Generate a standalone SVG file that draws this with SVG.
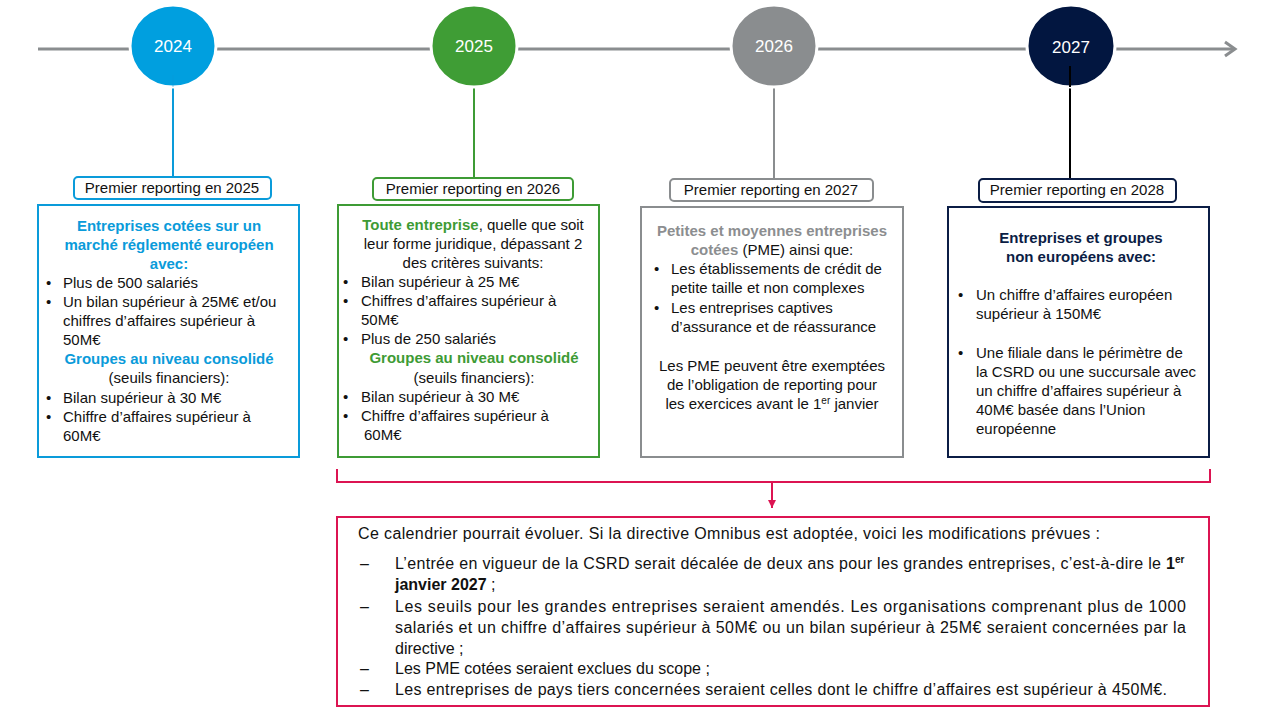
<svg xmlns="http://www.w3.org/2000/svg" width="1280" height="720" viewBox="0 0 1280 720">
<defs>
<style>
text{font-family:"Liberation Sans",Arial,sans-serif;font-size:15px;fill:#111}
.c{text-anchor:middle}
.yr{fill:#fff;font-size:17px;text-anchor:middle}
.b{font-weight:bold}
.blue{fill:#0A9BDA}
.green{fill:#3E9B35}
.grey{fill:#8C8E90}
.navy{fill:#0B1D45}
.lbl{fill:#fff;stroke-width:2}
.box{fill:#fff;stroke-width:2}
#omnibus text{font-size:16px}
</style>
<marker id="ah" markerWidth="10" markerHeight="10" refX="8" refY="5" orient="auto" markerUnits="userSpaceOnUse">
<path d="M0,1 L8,5 L0,9 Z" fill="#DC1452"/>
</marker>
</defs>
<rect width="1280" height="720" fill="#fff"/>

<g id="timeline">
<line x1="38" y1="49" x2="1234" y2="49" stroke="#8A8D8F" stroke-width="3"/>
<polyline points="1225,42 1235,49 1225,56" fill="none" stroke="#8A8D8F" stroke-width="3"/>
</g>

<g id="connectors">
<line x1="173" y1="80" x2="173" y2="177" stroke="#0A9BDA" stroke-width="2"/>
<line x1="474" y1="86" x2="474" y2="178" stroke="#3E9B35" stroke-width="2"/>
<line x1="774" y1="86" x2="774" y2="179" stroke="#8A8D8F" stroke-width="2"/>
<line x1="1070" y1="66" x2="1070" y2="179" stroke="#000" stroke-width="2"/>
<polyline points="337,469 337,482 1210,482 1210,469" fill="none" stroke="#DC1452" stroke-width="2"/>
<line x1="772" y1="482" x2="772" y2="508" stroke="#DC1452" stroke-width="2" marker-end="url(#ah)"/>
</g>

<g id="y2024">
<ellipse cx="173" cy="46" rx="43" ry="41" fill="#009FDF" stroke="#fff" stroke-width="3"/>
<line x1="173" y1="75" x2="173" y2="87" stroke="#0A9BDA" stroke-width="1" opacity="0.5"/>
<text class="yr" x="173" y="52">2024</text>
</g>
<g id="y2025">
<ellipse cx="474" cy="46" rx="43" ry="41" fill="#3F9D35" stroke="#fff" stroke-width="3"/>
<text class="yr" x="474" y="52">2025</text>
</g>
<g id="y2026">
<ellipse cx="774" cy="46" rx="43" ry="41" fill="#8A8D8F" stroke="#fff" stroke-width="3"/>
<text class="yr" x="774" y="52">2026</text>
</g>
<g id="y2027">
<ellipse cx="1071" cy="46" rx="44" ry="41" fill="#021640" stroke="#fff" stroke-width="3"/>
<line x1="1070" y1="66" x2="1070" y2="87" stroke="#000" stroke-width="2"/>
<text class="yr" x="1071" y="53">2027</text>
</g>

<g id="label2024">
<rect class="lbl" x="74" y="177" width="197" height="22" rx="4" stroke="#0A9BDA"/>
<text class="c" x="172" y="193">Premier reporting en 2025</text>
</g>
<g id="label2025">
<rect class="lbl" x="373" y="178" width="200" height="22" rx="4" stroke="#3E9B35"/>
<text class="c" x="473" y="194">Premier reporting en 2026</text>
</g>
<g id="label2026">
<rect class="lbl" x="670" y="179" width="203" height="22" rx="4" stroke="#8A8D8F"/>
<text class="c" x="771" y="195">Premier reporting en 2027</text>
</g>
<g id="label2027">
<rect class="lbl" x="979" y="179" width="197" height="23" rx="4" stroke="#0B1D45" stroke-width="2.5"/>
<text class="c" x="1077" y="195">Premier reporting en 2028</text>
</g>

<g id="box2024">
<rect class="box" x="38" y="205" width="261" height="252" stroke="#0A9BDA"/>
<text class="c b blue" x="169" y="231">Entreprises cotées sur un</text>
<text class="c b blue" x="169" y="250">marché réglementé européen</text>
<text class="c b blue" x="169" y="269">avec:</text>
<text x="46" y="288">•</text><text x="63" y="288">Plus de 500 salariés</text>
<text x="46" y="307">•</text><text x="63" y="307">Un bilan supérieur à 25M€ et/ou</text>
<text x="63" y="326">chiffres d’affaires supérieur à</text>
<text x="63" y="345">50M€</text>
<text class="c b blue" x="169" y="364">Groupes au niveau consolidé</text>
<text class="c" x="169" y="383">(seuils financiers):</text>
<text x="46" y="403">•</text><text x="63" y="403">Bilan supérieur à 30 M€</text>
<text x="46" y="422">•</text><text x="63" y="422">Chiffre d’affaires supérieur à</text>
<text x="63" y="441">60M€</text>
</g>

<g id="box2025">
<rect class="box" x="338" y="205" width="261" height="252" stroke="#3E9B35"/>
<text class="c" x="473" y="230"><tspan class="b green">Toute entreprise</tspan>, quelle que soit</text>
<text class="c" x="473" y="249">leur forme juridique, dépassant 2</text>
<text class="c" x="473" y="268">des critères suivants:</text>
<text x="343" y="287">•</text><text x="361" y="287">Bilan supérieur à 25 M€</text>
<text x="343" y="306">•</text><text x="361" y="306">Chiffres d’affaires supérieur à</text>
<text x="361" y="325">50M€</text>
<text x="343" y="344">•</text><text x="361" y="344">Plus de 250 salariés</text>
<text class="c b green" x="474" y="363">Groupes au niveau consolidé</text>
<text class="c" x="474" y="383">(seuils financiers):</text>
<text x="343" y="402">•</text><text x="361" y="402">Bilan supérieur à 30 M€</text>
<text x="343" y="421">•</text><text x="361" y="421">Chiffre d’affaires supérieur à</text>
<text x="364" y="440">60M€</text>
</g>

<g id="box2026">
<rect class="box" x="641" y="207" width="262" height="250" stroke="#8A8D8F"/>
<text class="c b grey" x="772" y="236">Petites et moyennes entreprises</text>
<text class="c" x="772" y="255"><tspan class="b grey">cotées</tspan> (PME) ainsi que:</text>
<text x="654" y="274">•</text><text x="671" y="274">Les établissements de crédit de</text>
<text x="671" y="293">petite taille et non complexes</text>
<text x="654" y="313">•</text><text x="671" y="313">Les entreprises captives</text>
<text x="671" y="332">d’assurance et de réassurance</text>
<text class="c" x="772" y="371">Les PME peuvent être exemptées</text>
<text class="c" x="772" y="390">de l’obligation de reporting pour</text>
<text class="c" x="772" y="409">les exercices avant le 1<tspan font-size="10" dy="-5">er</tspan><tspan dy="5"> janvier</tspan></text>
</g>

<g id="box2027">
<rect class="box" x="948" y="207" width="261" height="250" stroke="#0B1D45"/>
<text class="c b navy" x="1081" y="243">Entreprises et groupes</text>
<text class="c b navy" x="1081" y="262">non européens avec:</text>
<text x="958" y="300">•</text><text x="976" y="300">Un chiffre d’affaires européen</text>
<text x="976" y="319">supérieur à 150M€</text>
<text x="958" y="358">•</text><text x="976" y="358">Une filiale dans le périmètre de</text>
<text x="976" y="377">la CSRD ou une succursale avec</text>
<text x="976" y="396">un chiffre d’affaires supérieur à</text>
<text x="976" y="415">40M€ basée dans l’Union</text>
<text x="976" y="434">européenne</text>
</g>

<g id="omnibus">
<rect class="box" x="337" y="517" width="872" height="189" stroke="#DC1452"/>
<text x="358" y="539" textLength="742" lengthAdjust="spacing">Ce calendrier pourrait évoluer. Si la directive Omnibus est adoptée, voici les modifications prévues :</text>
<text x="360" y="569">–</text>
<text x="395" y="569" textLength="766" lengthAdjust="spacing">L’entrée en vigueur de la CSRD serait décalée de deux ans pour les grandes entreprises, c’est-à-dire le</text>
<text class="b" x="1166" y="569">1<tspan font-size="10" dy="-6">er</tspan></text>
<text x="395" y="590"><tspan class="b">janvier 2027</tspan> ;</text>
<text x="360" y="612">–</text>
<text x="395" y="612" textLength="791" lengthAdjust="spacing">Les seuils pour les grandes entreprises seraient amendés. Les organisations comprenant plus de 1000</text>
<text x="395" y="633" textLength="791" lengthAdjust="spacing">salariés et un chiffre d’affaires supérieur à 50M€ ou un bilan supérieur à 25M€ seraient concernées par la</text>
<text x="395" y="654">directive ;</text>
<text x="360" y="674">–</text>
<text x="395" y="674">Les PME cotées seraient exclues du scope ;</text>
<text x="360" y="695">–</text>
<text x="395" y="695" textLength="772" lengthAdjust="spacing">Les entreprises de pays tiers concernées seraient celles dont le chiffre d’affaires est supérieur à 450M€.</text>
</g>
</svg>
